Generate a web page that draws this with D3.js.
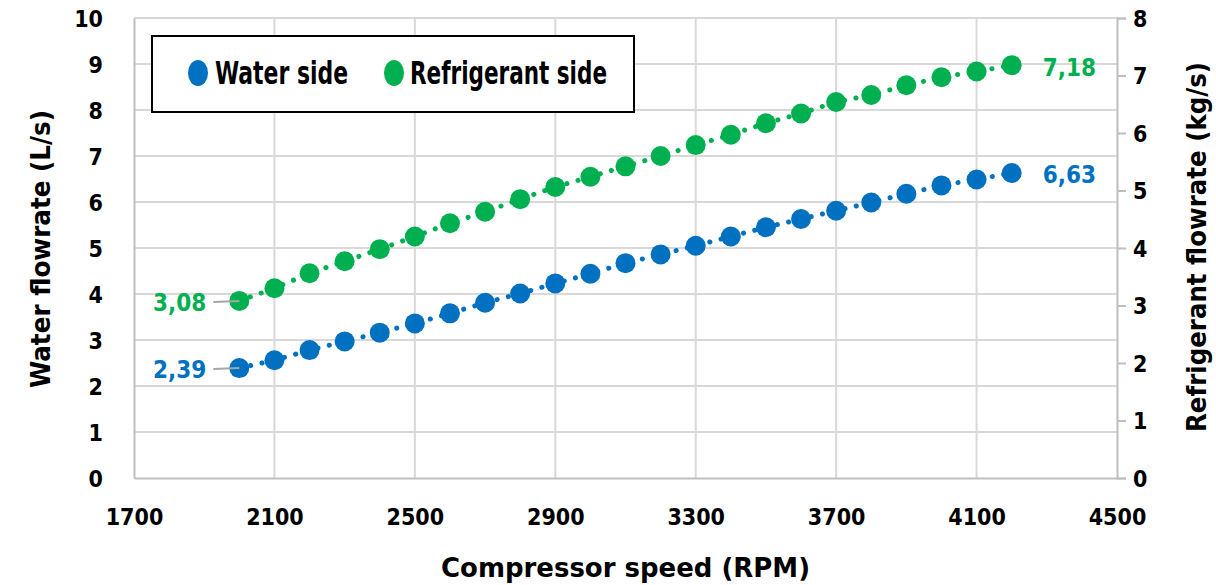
<!DOCTYPE html>
<html>
<head>
<meta charset="utf-8">
<script src="https://cdn.jsdelivr.net/npm/d3@7"></script>
<style>
  body { margin: 0; background: #fff; }
  text { font-family: 'Liberation Sans Narrow', 'DejaVu Sans Condensed', 'Open Sans', sans-serif; font-weight: bold; }
</style>
</head>
<body>
<script>
// compressor speed (RPM)
var rpm = [2000, 2100, 2200, 2300, 2400, 2500, 2600, 2700, 2800, 2900, 3000, 3100,
           3200, 3300, 3400, 3500, 3600, 3700, 3800, 3900, 4000, 4100, 4200];
// water flowrate (L/s), left axis
var water = [2.39, 2.56, 2.78, 2.97, 3.16, 3.36, 3.58, 3.81, 4.01, 4.23, 4.44, 4.67,
             4.86, 5.05, 5.25, 5.45, 5.63, 5.81, 5.99, 6.18, 6.36, 6.49, 6.63];
// refrigerant flowrate (kg/s), right axis
var refrig = [3.08, 3.30, 3.56, 3.77, 3.98, 4.20, 4.43, 4.63, 4.85, 5.06, 5.24, 5.42,
              5.60, 5.79, 5.97, 6.17, 6.34, 6.54, 6.66, 6.83, 6.97, 7.07, 7.18];
var xTicks = [1700, 2100, 2500, 2900, 3300, 3700, 4100, 4500];
var yLeftTicks = [0, 1, 2, 3, 4, 5, 6, 7, 8, 9, 10];
var yRightTicks = [0, 1, 2, 3, 4, 5, 6, 7, 8];
var seriesNames = ["Water side", "Refrigerant side"];

var width = 1216, height = 585,
    plotLeft = 134, plotRight = 1117, plotTop = 18, plotBottom = 478,
    blue = "#0070c0", green = "#00b050",
    grid = "#d9d9d9", axisCol = "#bfbfbf";

var svg = d3.select("body").append("svg")
    .attr("width", width)
    .attr("height", height);

var x = d3.scaleLinear().domain([1700, 4500]).range([plotLeft, plotRight]);
var yL = d3.scaleLinear().domain([0, 10]).range([plotBottom, plotTop]);
var yR = d3.scaleLinear().domain([0, 8]).range([plotBottom, plotTop]);

// gridlines
svg.append("g").selectAll("line")
  .data(xTicks.slice(1, -1))
  .enter().append("line")
    .attr("x1", function(d) { return x(d); })
    .attr("x2", function(d) { return x(d); })
    .attr("y1", plotTop).attr("y2", plotBottom)
    .attr("stroke", grid).attr("stroke-width", 2);

svg.append("g").selectAll("line")
  .data(yLeftTicks.slice(1))
  .enter().append("line")
    .attr("x1", plotLeft).attr("x2", plotRight)
    .attr("y1", function(d) { return yL(d); })
    .attr("y2", function(d) { return yL(d); })
    .attr("stroke", grid).attr("stroke-width", 2);

// axes
var xAxis = svg.append("g")
  .attr("transform", "translate(0," + plotBottom + ")")
  .call(d3.axisBottom(x).tickValues(xTicks).tickFormat(d3.format("d")).tickSize(0).tickPadding(31));

var leftAxis = svg.append("g")
  .attr("transform", "translate(" + plotLeft + ",0)")
  .call(d3.axisLeft(yL).tickValues(yLeftTicks).tickSize(0).tickPadding(31));

var rightAxis = svg.append("g")
  .attr("transform", "translate(" + plotRight + ",0)")
  .call(d3.axisRight(yR).tickValues(yRightTicks).tickSize(9).tickPadding(7));

[xAxis, leftAxis, rightAxis].forEach(function(a) {
  a.select(".domain").attr("stroke", axisCol).attr("stroke-width", 2);
  a.selectAll(".tick line").attr("stroke", axisCol).attr("stroke-width", 2);
  a.selectAll(".tick text")
    .attr("fill", "#000")
    .style("font-size", "23px");
});
leftAxis.selectAll(".tick text").attr("dy", "0.35em");
rightAxis.selectAll(".tick text").attr("dy", "0.35em");

// axis titles
svg.append("text")
  .attr("x", (plotLeft + plotRight) / 2).attr("y", 577)
  .attr("text-anchor", "middle")
  .attr("textLength", 369).attr("lengthAdjust", "spacingAndGlyphs")
  .style("font-size", "27px")
  .text("Compressor speed (RPM)");

svg.append("text")
  .attr("transform", "translate(50,249) rotate(-90)")
  .attr("text-anchor", "middle")
  .attr("textLength", 278).attr("lengthAdjust", "spacingAndGlyphs")
  .style("font-size", "27px")
  .text("Water flowrate (L/s)");

svg.append("text")
  .attr("transform", "translate(1206,247) rotate(-90)")
  .attr("text-anchor", "middle")
  .attr("textLength", 370).attr("lengthAdjust", "spacingAndGlyphs")
  .style("font-size", "27px")
  .text("Refrigerant flowrate (kg/s)");

// series
var series = [
  {name: seriesNames[0], values: water, y: yL, color: blue},
  {name: seriesNames[1], values: refrig, y: yR, color: green}
];

var fmt = function(v) { return d3.format(".2f")(v).replace(".", ","); };

series.forEach(function(s) {
  var pts = rpm.map(function(r, i) { return [x(r), s.y(s.values[i])]; });
  svg.append("path")
    .attr("d", d3.line()(pts))
    .attr("fill", "none")
    .attr("stroke", s.color)
    .attr("stroke-width", 5)
    .attr("stroke-linecap", "round")
    .attr("stroke-dasharray", "0.1,11.5");
  svg.append("g").selectAll("circle")
    .data(pts)
    .enter().append("circle")
      .attr("cx", function(d) { return d[0]; })
      .attr("cy", function(d) { return d[1]; })
      .attr("r", 10)
      .attr("fill", s.color);

  // data labels at the first and last points
  var first = pts[0], last = pts[pts.length - 1];
  svg.append("line")
    .attr("x1", first[0] - 26).attr("x2", first[0])
    .attr("y1", first[1] + 1).attr("y2", first[1])
    .attr("stroke", "#a6a6a6").attr("stroke-width", 2);
  svg.append("text")
    .attr("x", first[0] - 33).attr("y", first[1] + 2)
    .attr("dy", "0.35em")
    .attr("text-anchor", "end")
    .attr("fill", s.color)
    .style("font-size", "24px")
    .text(fmt(s.values[0]));
  svg.append("text")
    .attr("x", last[0] + 31).attr("y", last[1] + 2)
    .attr("dy", "0.35em")
    .attr("fill", s.color)
    .style("font-size", "24px")
    .text(fmt(s.values[s.values.length - 1]));
});

// legend
var legend = svg.append("g");
legend.append("rect")
  .attr("x", 152).attr("y", 36).attr("width", 482).attr("height", 76)
  .attr("fill", "#fff").attr("stroke", "#000").attr("stroke-width", 2);

var legendItems = [
  {cx: 198, tx: 215, w: 133, color: blue, name: seriesNames[0]},
  {cx: 394, tx: 410, w: 197, color: green, name: seriesNames[1]}
];
legendItems.forEach(function(d) {
  legend.append("ellipse")
    .attr("cx", d.cx).attr("cy", 73).attr("rx", 10).attr("ry", 13)
    .attr("fill", d.color);
  legend.append("text")
    .attr("x", d.tx).attr("y", 73).attr("dy", "0.35em")
    .attr("textLength", d.w).attr("lengthAdjust", "spacingAndGlyphs")
    .style("font-size", "32px")
    .text(d.name);
});
</script>
</body>
</html>
